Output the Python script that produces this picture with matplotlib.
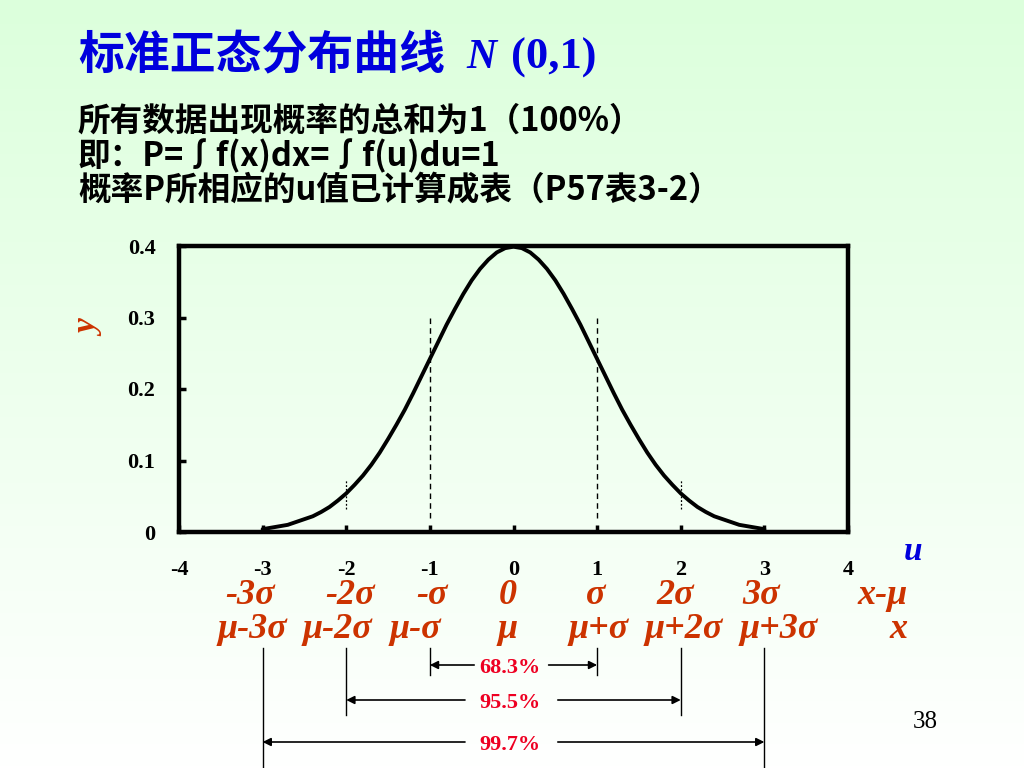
import numpy as np
import matplotlib
matplotlib.use("Agg")
import matplotlib.pyplot as plt
from matplotlib.transforms import blended_transform_factory
from matplotlib.patches import FancyArrowPatch
from matplotlib.lines import Line2D

# ---- data ----
u_vals = [-3.0, -2.9, -2.8, -2.7, -2.6, -2.5, -2.4, -2.3, -2.2, -2.1, -2.0,
          -1.9, -1.8, -1.7, -1.6, -1.5, -1.4, -1.3, -1.2, -1.1, -1.0,
          -0.9, -0.8, -0.7, -0.6, -0.5, -0.4, -0.3, -0.2, -0.1, 0.0,
          0.1, 0.2, 0.3, 0.4, 0.5, 0.6, 0.7, 0.8, 0.9, 1.0,
          1.1, 1.2, 1.3, 1.4, 1.5, 1.6, 1.7, 1.8, 1.9, 2.0,
          2.1, 2.2, 2.3, 2.4, 2.5, 2.6, 2.7, 2.8, 2.9, 3.0]
y_vals = [0.004, 0.006, 0.008, 0.010, 0.014, 0.018, 0.022, 0.028, 0.035, 0.044, 0.054,
          0.066, 0.079, 0.094, 0.111, 0.130, 0.150, 0.171, 0.194, 0.218, 0.242,
          0.266, 0.290, 0.312, 0.333, 0.352, 0.368, 0.381, 0.391, 0.397, 0.399,
          0.397, 0.391, 0.381, 0.368, 0.352, 0.333, 0.312, 0.290, 0.266, 0.242,
          0.218, 0.194, 0.171, 0.150, 0.130, 0.111, 0.094, 0.079, 0.066, 0.054,
          0.044, 0.035, 0.028, 0.022, 0.018, 0.014, 0.010, 0.008, 0.006, 0.004]
x_ticks = [-4, -3, -2, -1, 0, 1, 2, 3, 4]
x_ticklabels = ["-4", "-3", "-2", "-1", "0", "1", "2", "3", "4"]
y_ticks = [0, 0.1, 0.2, 0.3, 0.4]
y_ticklabels = ["0", "0.1", "0.2", "0.3", "0.4"]
sigma_labels = ["-3σ", "-2σ", "-σ", "0", "σ", "2σ", "3σ", "x-μ"]
mu_labels = ["μ-3σ", "μ-2σ", "μ-σ", "μ", "μ+σ", "μ+2σ", "μ+3σ", "x"]
ranges_k = [1, 2, 3]
range_pct = ["68.3%", "95.5%", "99.7%"]

title_cn = "标准正态分布曲线"
sub_lines = ["所有数据出现概率的总和为1（100%）",
             "即：P=∫f(x)dx=∫f(u)du=1",
             "概率P所相应的u值已计算成表（P57表3-2）"]

W, H = 1024, 768
fig = plt.figure(figsize=(W / 100, H / 100), dpi=100)

def fx(px):
    return px / W

def fy(py):
    return 1 - py / H

# background gradient
bg = fig.add_axes([0, 0, 1, 1], zorder=-10)
grad = np.linspace(0, 1, 256).reshape(-1, 1)
top = np.array([220, 255, 220]) / 255.0
bot = np.array([255, 255, 255]) / 255.0
img = top[None, None, :] * (1 - grad[:, :, None]) + bot[None, None, :] * grad[:, :, None]
bg.imshow(img, aspect="auto", extent=[0, 1, 0, 1], origin="upper")
bg.set_axis_off()

serif = "Liberation Serif"
cjk = ["Noto Sans CJK SC", "DejaVu Sans"]
orange = "#cc3300"
blue = "#0000dd"

# main axes
ax = fig.add_axes([fx(179), fy(532), fx(848) - fx(179), fy(246) - fy(532)])
ax.patch.set_alpha(0)
ax.plot(u_vals, y_vals, color="black", lw=2.8, solid_capstyle="round", solid_joinstyle="round", zorder=3)
for k in [-1, 1]:
    ax.plot([k, k], [0.02, 0.3], color="black", lw=1.0, ls=(0, (4, 3)))
for k in [-2, 2]:
    ax.plot([k, k], [0.032, 0.073], color="black", lw=0.9, ls=(0, (1.5, 1.5)))
ax.set_xlim(-4, 4)
ax.set_ylim(0, 0.4)
for s in ax.spines.values():
    s.set_linewidth(3.2)
ax.set_xticks(x_ticks)
ax.set_xticklabels(x_ticklabels)
ax.set_yticks(y_ticks)
ax.set_yticklabels(y_ticklabels)
ax.tick_params(axis="x", direction="in", length=5, width=2.5, pad=20, top=False)
ax.tick_params(axis="y", direction="in", length=5, width=2.5, pad=17, right=False)
for lab in ax.get_xticklabels() + ax.get_yticklabels():
    lab.set_fontfamily(serif)
    lab.set_fontweight("bold")
    lab.set_fontsize(16)

# axis labels
fig.text(fx(90), fy(329), "y", color=orange, family=serif, weight="bold", style="italic",
         fontsize=24, rotation=90, ha="center", va="center")
fig.text(fx(913), fy(552), "u", color=blue, family=serif, weight="bold", style="italic",
         fontsize=24, ha="center", va="center")

# title
fig.text(fx(78), fy(56), title_cn, color=blue, family=cjk, weight="bold", fontsize=33,
         ha="left", va="center")
fig.text(fx(466), fy(58), "N", color=blue, family=serif, weight="bold", style="italic",
         fontsize=30, ha="left", va="center")
fig.text(fx(511), fy(58), "(0,1)", color=blue, family=serif, weight="bold",
         fontsize=32, ha="left", va="center")

# subtitle lines
for i, line in enumerate(sub_lines):
    fig.text(fx(78), fy(121 + 35 * i), line, color="black", family=cjk, weight="bold",
             fontsize=23.5, ha="left", va="center")

# labels below the axis (x in data units, y in figure)
tr = blended_transform_factory(ax.transData, fig.transFigure)
sig_pos = [-3.15, -1.95, -0.97, -0.07, 0.98, 1.94, 2.96, 4.41]
mu_pos = [-3.12, -2.10, -1.17, -0.07, 1.02, 2.04, 3.17, 4.60]
for lab, p in zip(sigma_labels, sig_pos):
    ax.text(p, fy(596), lab, transform=tr, color=orange, family=serif, weight="bold",
            style="italic", fontsize=26, ha="center", va="center", clip_on=False)
for lab, p in zip(mu_labels, mu_pos):
    ax.text(p, fy(630), lab, transform=tr, color=orange, family=serif, weight="bold",
            style="italic", fontsize=26, ha="center", va="center", clip_on=False)

# vertical guide lines and range arrows
line_bottom = {1: 675, 2: 715, 3: 768}
arrow_y = {1: 665, 2: 700, 3: 742}
arrow_start = {1: 0.47, 2: 0.58, 3: 0.58}
for k, pct in zip(ranges_k, range_pct):
    for sgn in [-1, 1]:
        fig.add_artist(Line2D([sgn * k, sgn * k], [fy(648), fy(line_bottom[k])],
                              transform=tr, color="black", lw=1.0))
    y = fy(arrow_y[k])
    fig.add_artist(FancyArrowPatch((-arrow_start[k], y), (-k, y), transform=tr, arrowstyle="-|>",
                                   mutation_scale=12, lw=1.2, color="black",
                                   shrinkA=0, shrinkB=0))
    fig.add_artist(FancyArrowPatch((arrow_start[k] - 0.05, y), (k, y), transform=tr, arrowstyle="-|>",
                                   mutation_scale=12, lw=1.2, color="black",
                                   shrinkA=0, shrinkB=0))
    ax.text(-0.04, fy(arrow_y[k] + 3), pct, transform=tr, color="#ee0022", family=serif,
            weight="bold", fontsize=16, ha="center", va="center", clip_on=False)

# page number
fig.text(fx(925), fy(722), "38", color="black", family=serif, fontsize=18,
         ha="center", va="center")

fig.savefig("out.png", dpi=100)
